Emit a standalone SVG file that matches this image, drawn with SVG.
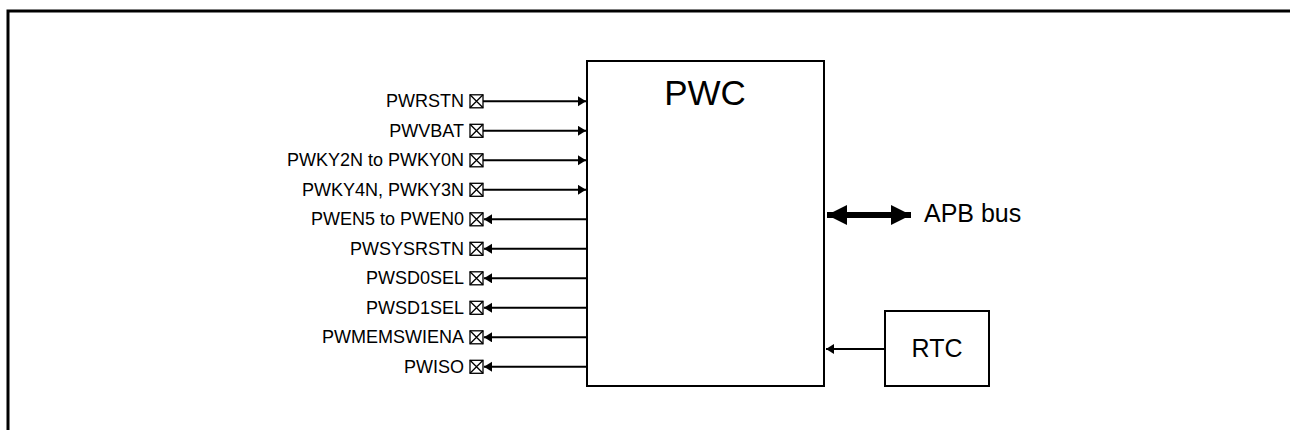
<svg xmlns="http://www.w3.org/2000/svg" width="1290" height="430" viewBox="0 0 1290 430">
<style>
text{font-family:"Liberation Sans",Arial,sans-serif;fill:#000}
.sig{font-size:18px;text-anchor:end}
.pin{fill:#fff;stroke:#000;stroke-width:1.3}
.pinx{stroke:#000;stroke-width:1.3}
.wire{stroke:#000;stroke-width:2;fill:none}
.box{fill:#fff;stroke:#000;stroke-width:2}
</style>
<defs>
<marker id="ah" markerUnits="userSpaceOnUse" markerWidth="9" markerHeight="11" refX="8" refY="5" orient="auto">
<path d="M0,0 L8,5 L0,10 z" fill="#000"/>
</marker>
<marker id="big" markerUnits="userSpaceOnUse" markerWidth="22" markerHeight="22" refX="20" refY="10" orient="auto-start-reverse">
<path d="M0,0 L20,10 L0,20 z" fill="#000"/>
</marker>
<g id="pinsym">
<rect class="pin" x="0" y="-6.5" width="13" height="13"/>
<path class="pinx" d="M0,-6.5 L13,6.5 M13,-6.5 L0,6.5"/>
</g>
</defs>
<path d="M8,430 L8,11 L1290,11" fill="none" stroke="#000" stroke-width="3"/>
<g id="pwc">
<rect class="box" x="587" y="61" width="237" height="325"/>
<text x="705" y="105" font-size="35" text-anchor="middle">PWC</text>
</g>
<g id="rtc">
<rect class="box" x="885" y="311" width="104" height="75" stroke-width="2.5"/>
<text x="937" y="357" font-size="25" text-anchor="middle">RTC</text>
</g>
<g id="apb">
<text x="924" y="222" font-size="25">APB bus</text>
</g>
<g id="pins">
<g id="p0"><text class="sig" x="464" y="107.3">PWRSTN</text><use href="#pinsym" x="470" y="101.3"/></g>
<g id="p1"><text class="sig" x="464" y="136.8">PWVBAT</text><use href="#pinsym" x="470" y="130.8"/></g>
<g id="p2"><text class="sig" x="464" y="166.3">PWKY2N to PWKY0N</text><use href="#pinsym" x="470" y="160.3"/></g>
<g id="p3"><text class="sig" x="464" y="195.8">PWKY4N, PWKY3N</text><use href="#pinsym" x="470" y="189.8"/></g>
<g id="p4"><text class="sig" x="464" y="225.3">PWEN5 to PWEN0</text><use href="#pinsym" x="470" y="219.3"/></g>
<g id="p5"><text class="sig" x="464" y="254.8">PWSYSRSTN</text><use href="#pinsym" x="470" y="248.8"/></g>
<g id="p6"><text class="sig" x="464" y="284.3">PWSD0SEL</text><use href="#pinsym" x="470" y="278.3"/></g>
<g id="p7"><text class="sig" x="464" y="313.8">PWSD1SEL</text><use href="#pinsym" x="470" y="307.8"/></g>
<g id="p8"><text class="sig" x="464" y="343.3">PWMEMSWIENA</text><use href="#pinsym" x="470" y="337.3"/></g>
<g id="p9"><text class="sig" x="464" y="372.8">PWISO</text><use href="#pinsym" x="470" y="366.8"/></g>
</g>
<g id="connectors">
<path class="wire" d="M483,101.3 H586" marker-end="url(#ah)"/>
<path class="wire" d="M483,130.8 H586" marker-end="url(#ah)"/>
<path class="wire" d="M483,160.3 H586" marker-end="url(#ah)"/>
<path class="wire" d="M483,189.8 H586" marker-end="url(#ah)"/>
<path class="wire" d="M587,219.3 H484" marker-end="url(#ah)"/>
<path class="wire" d="M587,248.8 H484" marker-end="url(#ah)"/>
<path class="wire" d="M587,278.3 H484" marker-end="url(#ah)"/>
<path class="wire" d="M587,307.8 H484" marker-end="url(#ah)"/>
<path class="wire" d="M587,337.3 H484" marker-end="url(#ah)"/>
<path class="wire" d="M587,366.8 H484" marker-end="url(#ah)"/>
<path d="M885,349 H826" stroke="#000" stroke-width="2" fill="none" marker-end="url(#ah)"/>
<path d="M827,215 H911" stroke="#000" stroke-width="6" fill="none" marker-start="url(#big)" marker-end="url(#big)"/>
</g>
</svg>
